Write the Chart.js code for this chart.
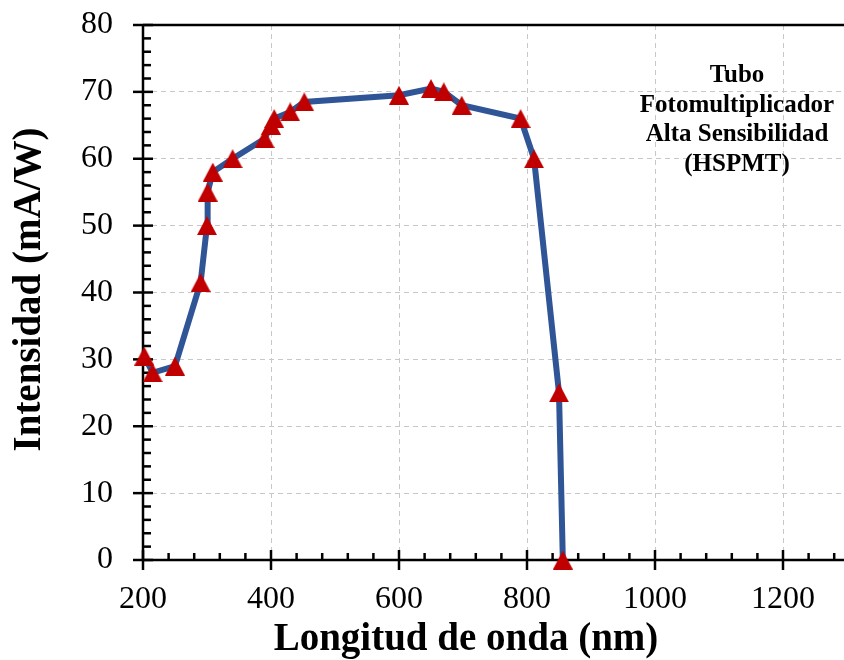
<!DOCTYPE html>
<html>
<head>
<meta charset="utf-8">
<script src="https://cdn.jsdelivr.net/npm/chart.js@4"></script>
<style>
  html, body { margin: 0; padding: 0; background: #fff; overflow: hidden; }
  #wrap { width: 848px; height: 660px; }
</style>
</head>
<body>
<div id="wrap"><canvas id="c" width="848" height="660"></canvas></div>
<script>
// Spectral response of the high-sensitivity photomultiplier tube
const wavelength = [202, 215, 250, 290, 300, 301, 309, 340, 390, 400, 405, 430, 452, 600, 650, 670, 698, 790, 811, 850, 856];
const intensity  = [30.5, 28, 29, 41.5, 50, 55, 58, 60, 63, 65, 66, 67, 68.5, 69.5, 70.5, 70, 68, 66, 60, 25, 0];

const xTickValues = [200, 400, 600, 800, 1000, 1200];
const yTickValues = [0, 10, 20, 30, 40, 50, 60, 70, 80];
const noteLines = ['Tubo', 'Fotomultiplicador', 'Alta Sensibilidad', '(HSPMT)'];
const xTitle = 'Longitud de onda (nm)';
const yTitle = 'Intensidad (mA/W)';

const X_MIN = 200, X_MAX = 1300, Y_MIN = 0, Y_MAX = 80;
const X_MINOR = 40, Y_MINOR = 2;
const SERIF = '"Liberation Serif", "Times New Roman", serif';

// Triangle marker centred in its own box
function triangleMarker(w, h, color) {
  const cv = document.createElement('canvas');
  cv.width = w; cv.height = h;
  const g = cv.getContext('2d');
  g.fillStyle = color;
  g.beginPath();
  g.moveTo(w / 2, 0);
  g.lineTo(w, h);
  g.lineTo(0, h);
  g.closePath();
  g.fill();
  return cv;
}
const marker = triangleMarker(20, 19, '#C00000');

// Fixed axis boxes, without the extra room Chart.js reserves for edge labels
function fixBox(size) {
  return s => {
    if (s.isHorizontal()) s.height = size; else s.width = size;
    s.paddingLeft = s.paddingRight = s.paddingTop = s.paddingBottom = 0;
  };
}

// Axis lines, crossing major ticks, inner minor ticks and the top frame line
const axisFrame = {
  id: 'axisFrame',
  beforeDatasetsDraw(chart) {
    const { ctx, chartArea: a, scales: { x, y } } = chart;
    const seg = (x1, y1, x2, y2) => { ctx.beginPath(); ctx.moveTo(x1, y1); ctx.lineTo(x2, y2); ctx.stroke(); };
    ctx.save();
    ctx.strokeStyle = '#000';
    ctx.lineWidth = 2.5;
    seg(a.left, a.top, a.right, a.top);
    seg(a.left, a.top - 1, a.left, a.bottom + 1);
    seg(a.left, a.bottom, a.right, a.bottom);
    for (let v = Y_MIN; v <= Y_MAX; v += Y_MINOR) {
      const py = y.getPixelForValue(v);
      if (v % 10 === 0) seg(a.left - 10, py, a.left + 10, py);
      else seg(a.left, py, a.left + 8, py);
    }
    for (let v = X_MIN; v <= X_MAX; v += X_MINOR) {
      const px = x.getPixelForValue(v);
      if ((v - X_MIN) % 200 === 0) seg(px, a.bottom - 10, px, a.bottom + 10);
      else seg(px, a.bottom - 7, px, a.bottom);
    }
    ctx.restore();
  }
};

// Axis titles and the label block in the upper-right corner
const textLayer = {
  id: 'textLayer',
  afterDraw(chart) {
    const { ctx, chartArea: a } = chart;
    ctx.save();
    ctx.fillStyle = '#000';
    ctx.textAlign = 'center';
    ctx.textBaseline = 'middle';

    ctx.font = 'bold 39px ' + SERIF;
    ctx.fillText(xTitle, a.left + 323, 640);
    ctx.save();
    ctx.translate(30, (a.top + a.bottom) / 2 - 3);
    ctx.rotate(-Math.PI / 2);
    ctx.fillText(yTitle, 0, 0);
    ctx.restore();

    ctx.font = 'bold 25px ' + SERIF;
    const cx = a.left + 594, top = a.top + 51;
    noteLines.forEach((t, i) => ctx.fillText(t, cx, top + i * 29.5));
    ctx.restore();
  }
};

new Chart(document.getElementById('c'), {
  type: 'scatter',
  data: {
    datasets: [{
      data: wavelength.map((w, i) => ({ x: w, y: intensity[i] })),
      showLine: true,
      borderColor: '#2F5597',
      borderWidth: 6,
      tension: 0,
      pointStyle: marker,
      pointRadius: 10,
      pointHoverRadius: 10,
      clip: false
    }]
  },
  options: {
    responsive: false,
    animation: false,
    events: [],
    layout: { autoPadding: false, padding: { left: 0, top: 25, right: 1, bottom: 0 } },
    plugins: { legend: { display: false }, tooltip: { enabled: false } },
    scales: {
      x: {
        type: 'linear',
        min: X_MIN, max: X_MAX,
        afterBuildTicks: s => { s.ticks = xTickValues.map(v => ({ value: v })); },
        afterFit: fixBox(100),
        grid: {
          drawTicks: false,
          lineWidth: 1,
          color: c => (c.tick && c.tick.value === X_MIN ? 'rgba(0,0,0,0)' : '#C8C8C8')
        },
        border: { display: false, dash: [5, 4] },
        ticks: {
          padding: 24,
          color: '#000',
          maxRotation: 0,
          autoSkip: false,
          callback: v => String(v),
          font: { family: SERIF, size: 32, lineHeight: 1 }
        }
      },
      y: {
        type: 'linear',
        min: Y_MIN, max: Y_MAX,
        afterBuildTicks: s => { s.ticks = yTickValues.map(v => ({ value: v })); },
        afterFit: fixBox(143),
        grid: {
          drawTicks: false,
          lineWidth: 1,
          color: c => (c.tick && (c.tick.value === Y_MIN || c.tick.value === Y_MAX) ? 'rgba(0,0,0,0)' : '#C8C8C8')
        },
        border: { display: false, dash: [5, 4] },
        ticks: {
          padding: 30,
          color: '#000',
          autoSkip: false,
          callback: v => String(v),
          font: { family: SERIF, size: 32, lineHeight: 1 }
        }
      }
    }
  },
  plugins: [axisFrame, textLayer]
});
</script>
</body>
</html>
